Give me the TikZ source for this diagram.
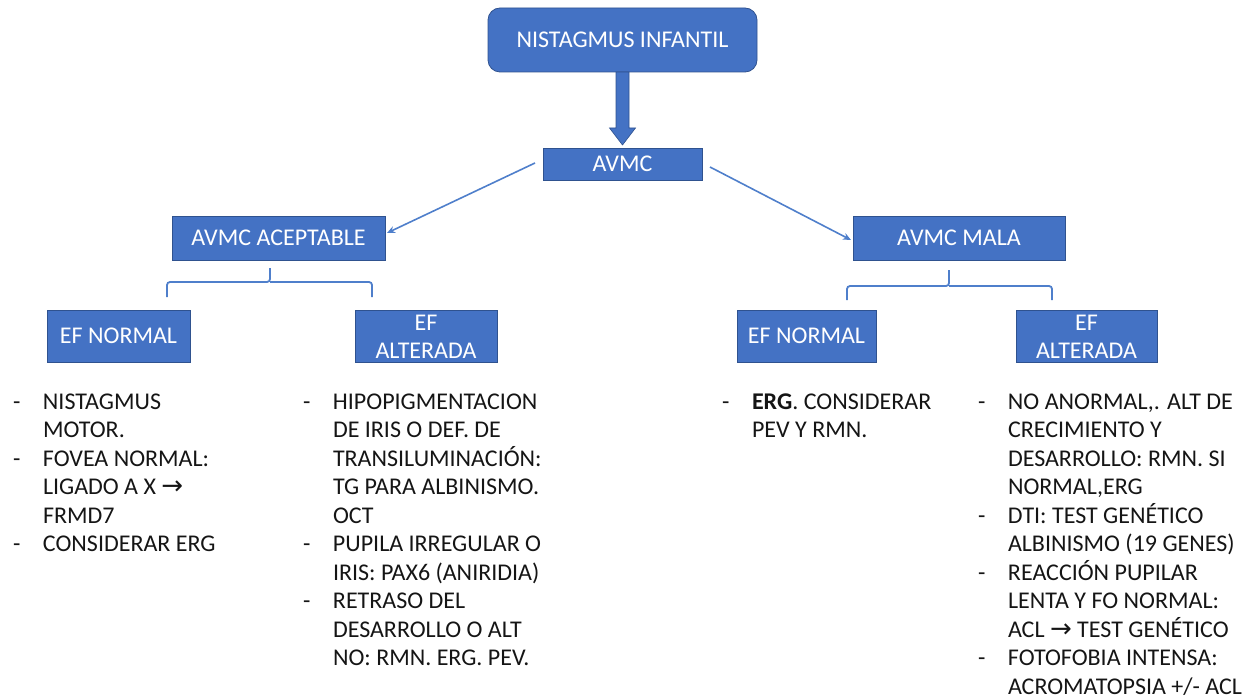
\documentclass[tikz,border=0pt]{standalone}
\usepackage{fontspec}
\setmainfont{Carlito}
\newfontfamily\arrowfont{DejaVu Sans}
\usetikzlibrary{arrows.meta,calc}
\definecolor{boxblue}{HTML}{4472C4}
\definecolor{boxedge}{HTML}{2F528F}
\definecolor{linkblue}{HTML}{4F7FCB}
\definecolor{txt}{HTML}{151515}
\newcommand\bul{\makebox[30pt][l]{-}}
\newcommand\ind{\hspace*{30pt}}
\newcommand\rarr{{\arrowfont\fontsize{26}{20}\selectfont →}}
\begin{document}
\begin{tikzpicture}[x=1pt,y=-1pt,
  every node/.style={inner sep=0pt, outer sep=0pt},
  bluebox/.style={draw=boxedge, fill=boxblue, line width=0.8pt, text=white, font=\fontsize{24}{28.6}\selectfont},
  listtext/.style={anchor=north west, align=left, text=txt, font=\fontsize{24}{28.5}\selectfont},
  link/.style={draw=linkblue, line width=1.6pt, -{Stealth[length=8pt,width=7pt]}},
  bracket/.style={draw=linkblue, line width=1.8pt, rounded corners=3pt},
]
\useasboundingbox (0,0) rectangle (1243,698);
% boxes
\node[bluebox, rounded corners=12pt, minimum width=269pt, minimum height=64pt] (top) at (622.5,40) {NISTAGMUS INFANTIL};
\node[bluebox, minimum width=159pt, minimum height=32pt] (avmc) at (622.5,164) {AVMC};
\node[bluebox, minimum width=213pt, minimum height=44pt] (acep) at (278.5,238) {AVMC ACEPTABLE};
\node[bluebox, minimum width=212pt, minimum height=44pt] (mala) at (959,238) {AVMC MALA};
\node[bluebox, minimum width=143pt, minimum height=52pt] (efnL) at (118.5,336) {EF NORMAL};
\node[bluebox, minimum width=142pt, minimum height=52pt] (efaL) at (426,336) {\raisebox{-9pt}[0pt][0pt]{\begin{tabular}{@{}c@{}}EF\\ALTERADA\end{tabular}}};
\node[bluebox, minimum width=139pt, minimum height=52pt] (efnR) at (806.5,336) {EF NORMAL};
\node[bluebox, minimum width=141pt, minimum height=52pt] (efaR) at (1086.5,336) {\raisebox{-9pt}[0pt][0pt]{\begin{tabular}{@{}c@{}}EF\\ALTERADA\end{tabular}}};
% thick arrow
\filldraw[fill=boxblue, draw=boxedge, line width=0.6pt] ($(top.south)+(-6.5,0)$) -- ($(top.south)+(6.5,0)$) -- ($(avmc.north)+(6.5,-20)$) -- ($(avmc.north)+(13,-20)$) -- ($(avmc.north)+(0,-3)$) -- ($(avmc.north)+(-13,-20)$) -- ($(avmc.north)+(-6.5,-20)$) -- cycle;
% thin arrows
\draw[link] ($(avmc.west)+(-8,-1)$) -- ($(acep.east)+(2,-5)$);
\draw[link] ($(avmc.east)+(8,3)$) -- ($(mala.west)+(-2,2)$);
% brackets
\coordinate (bLl) at (167,297);
\coordinate (bLm) at (270,282);
\coordinate (bLt) at (270,268);
\coordinate (bLr) at (372,297);
\draw[bracket] (bLl) |- (bLm) -- (bLt);
\draw[bracket] (bLm) -| (bLr);
\coordinate (bRl) at (847,300);
\coordinate (bRm) at (949,286);
\coordinate (bRt) at (949,270);
\coordinate (bRr) at (1052,300);
\draw[bracket] (bRl) |- (bRm) -- (bRt);
\draw[bracket] (bRm) -| (bRr);
% lists
\node[listtext] (l1) at (13,389.5) {\bul\strut NISTAGMUS\\ \ind MOTOR.\\ \bul FOVEA NORMAL:\\ \ind LIGADO A X \rarr\\ \ind FRMD7\\ \bul CONSIDERAR ERG};
\node[listtext] (l2) at (303,389.5) {\bul\strut HIPOPIGMENTACION\\ \ind DE IRIS O DEF. DE\\ \ind TRANSILUMINACIÓN:\\ \ind TG PARA ALBINISMO.\\ \ind OCT\\ \bul PUPILA IRREGULAR O\\ \ind IRIS: PAX6 (ANIRIDIA)\\ \bul RETRASO DEL\\ \ind DESARROLLO O ALT\\ \ind NO: RMN. ERG. PEV.};
\node[listtext] (l3) at (722,389.5) {\bul\strut \textbf{ERG}. CONSIDERAR\\ \ind PEV Y RMN.};
\node[listtext] (l4) at (978,389.5) {\bul\strut NO ANORMAL,. ALT DE\\ \ind CRECIMIENTO Y\\ \ind DESARROLLO: RMN. SI\\ \ind NORMAL,ERG\\ \bul DTI: TEST GENÉTICO\\ \ind ALBINISMO (19 GENES)\\ \bul REACCIÓN PUPILAR\\ \ind LENTA Y FO NORMAL:\\ \ind ACL \rarr\ TEST GENÉTICO\\ \bul FOTOFOBIA INTENSA:\\ \ind ACROMATOPSIA +/- ACL};
\end{tikzpicture}
\end{document}
